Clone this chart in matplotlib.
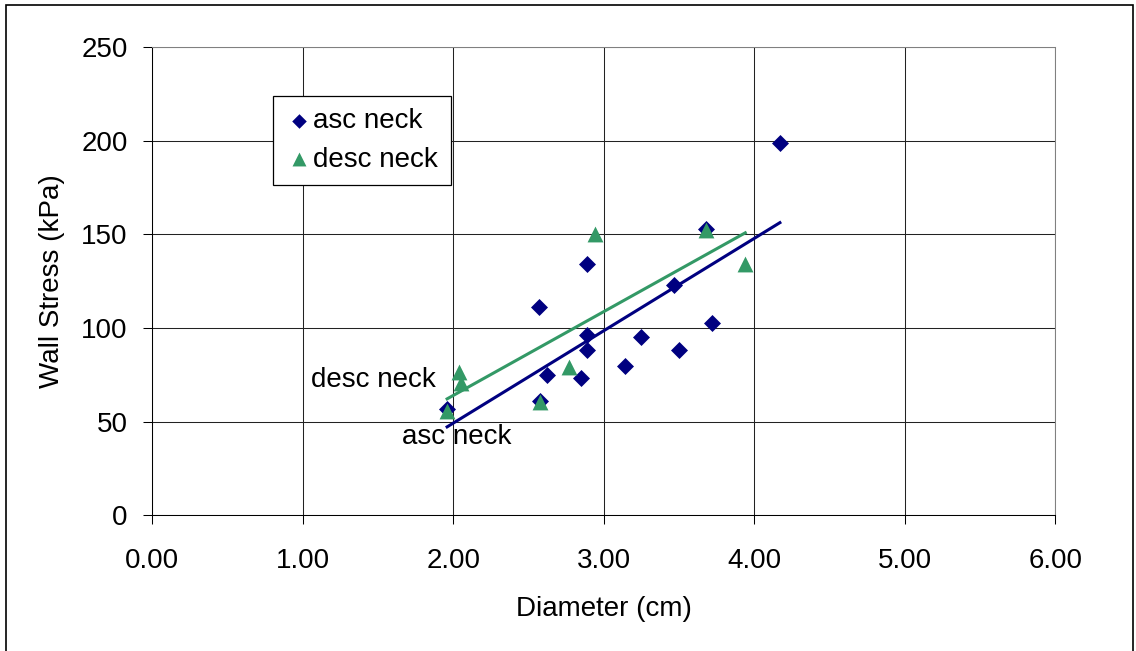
"""
Wall stress vs. diameter scatter for ascending / descending neck,
with a least-squares trend line per group.
"""
import numpy as np
import matplotlib
matplotlib.use("Agg")
import matplotlib.pyplot as plt
from matplotlib.patches import Rectangle

plt.rcParams["font.family"] = ["Liberation Sans", "DejaVu Sans"]

# diameter (cm), wall stress (kPa)
asc_diam = [1.96, 2.57, 2.89, 2.62, 2.58, 2.85, 2.89, 2.89,
            3.14, 3.25, 3.47, 3.50, 3.72, 3.68, 4.17]
asc_stress = [56.5, 111.0, 134.0, 75.0, 61.0, 73.5, 96.5, 88.5,
              79.5, 95.0, 123.0, 88.0, 102.5, 153.0, 199.0]

desc_diam = [1.96, 2.04, 2.05, 2.58, 2.77, 2.94, 3.68, 3.94]
desc_stress = [55.5, 76.5, 70.5, 60.5, 79.0, 150.0, 152.5, 134.0]

x_ticks = [0, 1, 2, 3, 4, 5, 6]
y_ticks = [0, 50, 100, 150, 200, 250]

NAVY = "#000080"
GREEN = "#339966"
FS = 20


def trend(x, y):
    x = np.asarray(x, float)
    y = np.asarray(y, float)
    k, b = np.polyfit(x, y, 1)
    xs = np.array([x.min(), x.max()])
    return xs, k * xs + b


fig = plt.figure(figsize=(11.36, 6.51), dpi=100)
ax = fig.add_axes([0.1338, 0.2084, 0.7953, 0.7194])

# outer chart border
fig.patches.append(Rectangle((6 / 1136, -0.05), 1127 / 1136, 1 - 5 / 651 + 0.05,
                             transform=fig.transFigure, fill=False,
                             edgecolor="black", linewidth=1.2))

ax.set_xlim(0, 6)
ax.set_ylim(0, 250)
ax.set_xticks(x_ticks)
ax.set_yticks(y_ticks)
ax.set_xticklabels([f"{t:.2f}" for t in x_ticks])
ax.grid(True, color="#222222", linewidth=0.75)
ax.set_axisbelow(True)

for s in ("top", "right"):
    ax.spines[s].set_color("#808080")
    ax.spines[s].set_linewidth(0.75)
for s in ("left", "bottom"):
    ax.spines[s].set_color("black")
    ax.spines[s].set_linewidth(0.75)

ax.tick_params(axis="both", direction="out", length=6.5, width=0.75,
               labelsize=FS)
ax.tick_params(axis="x", pad=17)
ax.tick_params(axis="y", pad=11)

ax.scatter(asc_diam, asc_stress, marker="D", s=75, color=NAVY,
           linewidths=0, zorder=3, label="asc neck")
ax.scatter(desc_diam, desc_stress, marker="^", s=130, color=GREEN,
           linewidths=0, zorder=3, label="desc neck")

xa, ya = trend(asc_diam, asc_stress)
xd, yd = trend(desc_diam, desc_stress)
ax.plot(xa, ya, color=NAVY, linewidth=2.2, zorder=4)
ax.plot(xd, yd, color=GREEN, linewidth=2.2, zorder=4)

ax.text(1.054, 68.6, "desc neck", fontsize=FS, va="baseline", ha="left")
ax.text(1.659, 37.9, "asc neck", fontsize=FS, va="baseline", ha="left")

ax.set_xlabel("Diameter (cm)", fontsize=FS, labelpad=16)
ax.set_ylabel("Wall Stress (kPa)", fontsize=FS, labelpad=12)

leg = ax.legend(loc="upper left", bbox_to_anchor=(0.134, 0.896),
                fontsize=FS, frameon=True, fancybox=False, framealpha=1,
                edgecolor="black", borderpad=0.45, handletextpad=0.0,
                labelspacing=0.45, handlelength=1.0, borderaxespad=0,
                scatterpoints=1)
leg.get_frame().set_linewidth(0.9)
leg.legend_handles[0].set_sizes([55])
leg.legend_handles[1].set_sizes([100])

fig.savefig("out.png", dpi=100)
